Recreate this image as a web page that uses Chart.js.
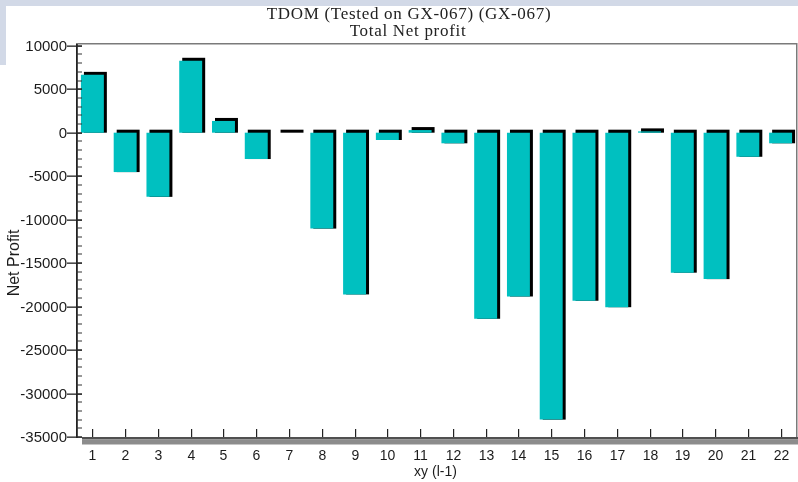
<!DOCTYPE html>
<html>
<head>
<meta charset="utf-8">
<title>TDOM Total Net profit</title>
<script src="https://cdn.jsdelivr.net/npm/chart.js@4.4.1/dist/chart.umd.min.js"></script>
<style>
    html, body { margin: 0; padding: 0; background: #ffffff; }
    #chart { display: block; }
</style>
</head>
<body>
<canvas id="chart" width="798" height="482"></canvas>
<script>
// Datos
var categories = ['1', '2', '3', '4', '5', '6', '7', '8', '9', '10', '11',
    '12', '13', '14', '15', '16', '17', '18', '19', '20', '21', '22'];
var netProfit = [6650, -4530, -7380, 8270, 1350, -3030, 0, -11030, -18600, -840, 300,
    -1220, -21400, -18840, -33000, -19330, -20070, 150, -16100, -16840, -2770, -1220];
var yMajorTicks = [10000, 5000, 0, -5000, -10000, -15000, -20000, -25000, -30000, -35000];
var yMinorStep = 1000;
var yMin = -35000;
var yMax = 10200;

var titleLines = ['TDOM (Tested on GX-067) (GX-067)', 'Total Net profit'];
var xTitle = 'xy (l-1)';
var yTitle = 'Net Profit';

var barColor = '#00c0c0';
var shadowColor = '#000000';
var textColor = '#1c1c1c';

// Plugin para el marco, la sombra de las barras y los ejes
var framePlugin = {
    id: 'frame',
    beforeDraw: function (chart) {
        var ctx = chart.ctx;
        ctx.save();
        ctx.fillStyle = '#ffffff';
        ctx.fillRect(0, 0, chart.width, chart.height);
        // franja lila de la ventana
        ctx.fillStyle = '#d2d9e7';
        ctx.fillRect(0, 0, chart.width, 6);
        ctx.fillRect(0, 0, 6, 65);
        ctx.restore();
    },
    beforeDatasetsDraw: function (chart) {
        var ctx = chart.ctx;
        var meta = chart.getDatasetMeta(0);
        ctx.save();
        ctx.fillStyle = shadowColor;
        meta.data.forEach(function (bar) {
            var p = bar.getProps(['x', 'y', 'base', 'width'], true);
            var left = p.x - p.width / 2 + 3;
            var top = Math.min(p.y, p.base) - 3;
            var bottom = Math.max(p.y, p.base);
            ctx.fillRect(left, top, p.width, bottom - top);
        });
        ctx.restore();
    },
    afterDatasetsDraw: function (chart) {
        var ctx = chart.ctx;
        var area = chart.chartArea;
        var xScale = chart.scales.x;
        var yScale = chart.scales.y;
        var i, y, x;

        ctx.save();

        // borde superior y derecho
        ctx.fillStyle = '#7a7a7a';
        ctx.fillRect(area.left, area.top - 1, area.right - area.left, 1.5);
        ctx.fillRect(area.right - 1, area.top - 1, 1.5, area.bottom - area.top + 1);

        // banda inferior del eje x
        ctx.fillStyle = '#505050';
        ctx.fillRect(area.left + 6, area.bottom, chart.width - area.left - 6, 2.5);
        ctx.fillStyle = '#8c8c8c';
        ctx.fillRect(area.left + 6, area.bottom + 2.5, chart.width - area.left - 6, 5);

        // eje y
        ctx.fillStyle = '#222222';
        ctx.fillRect(area.left, area.top, 1.8, area.bottom - area.top + 1);

        // marcas menores
        ctx.fillStyle = '#333333';
        for (var v = yMin; v <= yMax; v += yMinorStep) {
            y = Math.round(yScale.getPixelForValue(v)) - 0.5;
            ctx.fillRect(area.left, y, 6, 1);
        }

        // marcas mayores y etiquetas
        ctx.font = '15px "Liberation Sans", Arial, sans-serif';
        ctx.textAlign = 'right';
        ctx.textBaseline = 'middle';
        for (i = 0; i < yMajorTicks.length; i++) {
            y = Math.round(yScale.getPixelForValue(yMajorTicks[i])) - 0.5;
            ctx.fillStyle = '#222222';
            ctx.fillRect(area.left - 9, y, 15, 1.3);
            ctx.fillStyle = textColor;
            ctx.fillText(String(yMajorTicks[i]), area.left - 9, y + 1.5);
        }

        // marcas y etiquetas del eje x
        ctx.textAlign = 'center';
        ctx.font = '14px "Liberation Sans", Arial, sans-serif';
        for (i = 0; i < categories.length; i++) {
            x = Math.round(xScale.getPixelForValue(i));
            ctx.fillStyle = '#222222';
            ctx.fillRect(x, area.bottom - 8, 1.2, 8);
            ctx.fillStyle = textColor;
            ctx.fillText(categories[i], x + 0.5, area.bottom + 19);
        }

        // titulos de los ejes
        ctx.fillText(xTitle, (area.left + area.right) / 2 - 1, area.bottom + 35);
        ctx.save();
        ctx.font = '16px "Liberation Sans", Arial, sans-serif';
        ctx.translate(15, 263);
        ctx.rotate(-Math.PI / 2);
        ctx.fillText(yTitle, 0, 0);
        ctx.restore();

        // titulo principal
        ctx.font = '17px "Liberation Serif", "Times New Roman", serif';
        ctx.fillStyle = '#222222';
        if ('letterSpacing' in ctx) {
            ctx.letterSpacing = '0.7px';
        }
        ctx.fillText(titleLines[0], 409, 15);
        ctx.fillText(titleLines[1], 408, 32);

        ctx.restore();
    }
};

var chart = new Chart(document.getElementById('chart').getContext('2d'), {
    type: 'bar',
    data: {
        labels: categories,
        datasets: [{
            label: 'Net Profit',
            data: netProfit,
            backgroundColor: barColor,
            borderWidth: 0,
            barPercentage: 0.7,
            categoryPercentage: 1.0
        }]
    },
    options: {
        responsive: false,
        maintainAspectRatio: false,
        animation: false,
        devicePixelRatio: 1,
        layout: {
            padding: { left: 76, right: 1, top: 44, bottom: 45 }
        },
        plugins: {
            legend: { display: false },
            title: { display: false },
            tooltip: { enabled: false }
        },
        scales: {
            x: {
                display: false,
                offset: true
            },
            y: {
                display: false,
                min: yMin,
                max: yMax
            }
        }
    },
    plugins: [framePlugin]
});
</script>
</body>
</html>
